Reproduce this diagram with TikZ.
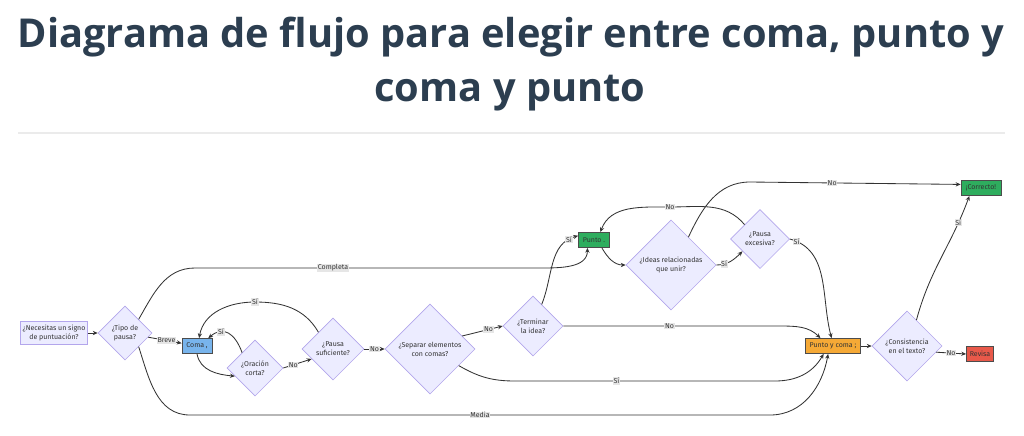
\documentclass[tikz,border=0pt]{standalone}
\usepackage{fontspec}
\setmainfont{Fira Sans}
\newfontfamily\titlefont{Open Sans}
\usepackage{tikz}
\usetikzlibrary{arrows.meta}
\usetikzlibrary{shapes.geometric}
\definecolor{titulo}{HTML}{2C3E50}
\definecolor{lila}{HTML}{ECECFF}
\definecolor{borde}{HTML}{B3A6EC}
\definecolor{texto}{HTML}{333333}
\definecolor{azul}{HTML}{78B4EC}
\definecolor{verde}{HTML}{2EAD5E}
\definecolor{naranja}{HTML}{F5A936}
\definecolor{rojo}{HTML}{E8594A}
\definecolor{etiqueta}{HTML}{E6E6E6}

\begin{document}
\begin{tikzpicture}[>={Stealth[length=3.5pt,width=3pt]}, x=0.025cm, y=0.025cm,
	rombo/.style={diamond, aspect=1, draw=borde, fill=lila, inner sep=0pt, align=center, text=texto, font=\fontsize{5}{6.5}\selectfont},
	caja/.style={draw=borde, fill=lila, align=center, text=texto, inner sep=1pt, font=\fontsize{5}{6.5}\selectfont},
	paso/.style={draw=black!70, line width=0.5pt, inner sep=1pt, minimum height=0.375cm, text=texto, font=\fontsize{5}{6.5}\selectfont},
	flecha/.style={->, draw=texto, line width=0.6pt},
	etiq/.style={fill=etiqueta, inner sep=0.5pt, text=texto, font=\fontsize{5}{6}\selectfont},
	cabecera/.style={anchor=base, text=titulo, font=\titlefont\fontsize{28.3}{34}\selectfont\bfseries}]
	\useasboundingbox (0,0) rectangle (1024,-435);
	\node[cabecera] (titulo1) at (511,-47) {Diagrama de flujo para elegir entre coma, punto y};
	\node[cabecera] (titulo2) at (510,-101) {coma y punto};
	\draw[black!8, line width=1.5pt] (18,-133)--(1005,-133);

	\node[caja, minimum width=1.675cm, minimum height=0.575cm] (inicio) at (54,-333) {¿Necesitas un signo\\de puntuación?};
	\node[rombo, minimum size=1.35cm] (tipo) at (125,-333) {¿Tipo de\\pausa?};
	\node[paso, fill=azul, minimum width=0.75cm] (coma) at (197,-346) {Coma ,};
	\node[rombo, minimum size=1.4cm] (corta) at (255,-368) {¿Oración\\corta?};
	\node[rombo, minimum size=1.55cm] (suficiente) at (333,-349) {¿Pausa\\suficiente?};
	\node[rombo, minimum size=2.25cm] (separar) at (430,-349) {¿Separar elementos\\con comas?};
	\node[rombo, minimum size=1.5cm] (terminar) at (533,-326) {¿Terminar\\la idea?};
	\node[paso, fill=verde, minimum width=0.775cm] (punto) at (594,-240) {Punto .};
	\node[rombo, minimum size=2.25cm] (ideas) at (671,-265) {¿Ideas relacionadas\\que unir?};
	\node[rombo, minimum size=1.475cm] (excesiva) at (760,-239) {¿Pausa\\excesiva?};
	\node[paso, fill=verde, minimum width=1cm] (correcto) at (981,-188) {¡Correcto!};
	\node[paso, fill=naranja, minimum width=1.375cm] (pyc) at (833,-346) {Punto y coma ;};
	\node[rombo, minimum size=1.75cm] (consistencia) at (907,-346) {¿Consistencia\\en el texto?};
	\node[paso, fill=rojo, minimum width=0.675cm] (revisa) at (980,-354) {Revisa};

	\draw[flecha] (inicio)--(tipo);
	\draw[flecha] (tipo)--node[etiq, pos=0.55]{Breve}(coma);
	\draw[flecha] (tipo.north east) to[out=60,in=180] (195,-268)--node[etiq, pos=0.4]{Completa}(540,-268) to[out=0,in=-90] (punto.230);
	\draw[flecha] (tipo.south east) to[out=-72,in=180] (190,-415)--node[etiq, pos=0.5]{Media}(770,-415) to[out=0,in=-100] (pyc.238);
	\draw[flecha] (coma.south) to[out=-80,in=175] (corta.202);
	\draw[flecha] (corta.130) to[out=110,in=40, looseness=1.4] node[etiq, pos=0.7]{Sí} (coma.35);
	\draw[flecha] (corta.east)--node[etiq, pos=0.35]{No}(suficiente.205);
	\draw[flecha] (suficiente.131) to[out=120,in=0] (255,-302) node[etiq]{Sí} to[out=180,in=80] (coma.75);
	\draw[flecha] (suficiente)--node[etiq]{No}(separar);
	\draw[flecha] (separar.22)--node[etiq, pos=0.65]{No}(terminar.west);
	\draw[flecha] (separar.330) to[out=-30,in=180] (515,-381)--node[etiq, pos=0.39]{Sí}(775,-381) to[out=0,in=-120] (pyc.220);
	\draw[flecha] (terminar.68) to[out=68,in=195] node[etiq, pos=0.88]{Sí} (punto.165);
	\draw[flecha] (terminar.east)--node[etiq, pos=0.49]{No}(780,-326) to[out=0,in=135] (pyc.148);
	\draw[flecha] (punto.315) to[out=-60,in=180] (ideas.west);
	\draw[flecha] (ideas.58) to[out=65,in=180] (750,-182)--node[etiq, pos=0.39]{No}(correcto.170);
	\draw[flecha] (ideas.east) to[out=0,in=225] node[etiq, pos=0.25]{Sí} (excesiva.215);
	\draw[flecha] (excesiva.137) to[out=130,in=0] (670,-207) node[etiq]{No} to[out=180,in=70] (punto.51);
	\draw[flecha] (excesiva.east) to[out=-15,in=105] node[etiq, pos=0.06]{Sí} (pyc.100);
	\draw[flecha] (pyc)--(consistencia);
	\draw[flecha] (consistencia.70) to[out=75,in=-110] node[etiq, pos=0.8]{Sí} (correcto.214);
	\draw[flecha] (consistencia.348)--node[etiq]{No}(revisa.west);
\end{tikzpicture}
\end{document}
